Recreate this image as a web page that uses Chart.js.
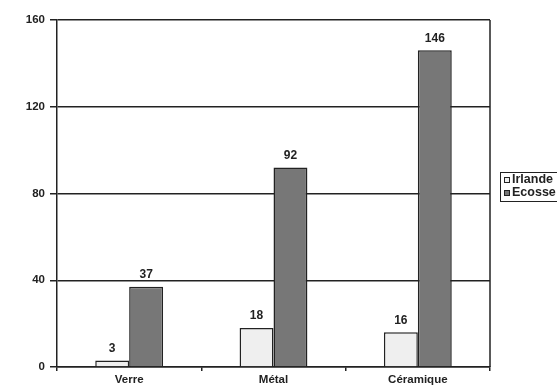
<!DOCTYPE html>
<html><head><meta charset="utf-8">
<script src="https://cdn.jsdelivr.net/npm/chart.js@4/dist/chart.umd.min.js"></script>
<style>html,body{margin:0;padding:0;background:#fff}#wrap{width:557px;height:387px}</style>
</head><body><div id="wrap"><canvas id="c" width="557" height="387"></canvas></div>
<script>
const categories = ["Verre", "Métal", "Céramique"];
const irlande = [3, 18, 16];
const ecosse = [37, 92, 146];
const yTicks = [0, 40, 80, 120, 160];
const seriesNames = ["Irlande", "Ecosse"];

const FONT = {family: "'Liberation Sans', Arial, sans-serif", size: 11.5, weight: "bold"};

const extras = {
  id: "extras",
  afterDatasetsDraw(chart) {
    const ctx = chart.ctx, a = chart.chartArea;
    ctx.save();
    // right border
    ctx.strokeStyle = "#222"; ctx.lineWidth = 1.5;
    ctx.beginPath(); ctx.moveTo(a.right, a.top); ctx.lineTo(a.right, a.bottom); ctx.stroke();
    // data labels
    ctx.fillStyle = "#222";
    ctx.font = "bold 12px 'Liberation Sans', Arial, sans-serif";
    ctx.textAlign = "center"; ctx.textBaseline = "bottom";
    chart.data.datasets.forEach((ds, i) => {
      chart.getDatasetMeta(i).data.forEach((bar, j) => {
        ctx.fillText(String(ds.data[j]), bar.x, bar.y - 6);
      });
    });
    // legend
    const lx = 500, ly = 172, lw = 62, lh = 29;
    ctx.strokeStyle = "#222"; ctx.lineWidth = 1;
    ctx.strokeRect(lx + 0.5, ly + 0.5, lw, lh);
    ctx.font = "bold 12.5px 'Liberation Sans', Arial, sans-serif";
    ctx.textAlign = "left"; ctx.textBaseline = "middle";
    chart.data.datasets.forEach((ds, i) => {
      const cy = ly + 8 + i * 13;
      ctx.fillStyle = ds.backgroundColor;
      ctx.fillRect(lx + 4, cy - 3, 6, 6);
      ctx.strokeStyle = "#222";
      ctx.strokeRect(lx + 4.5, cy - 2.5, 5, 5);
      ctx.fillStyle = "#222";
      ctx.fillText(ds.label, lx + 12, cy);
    });
    ctx.restore();
  }
};

new Chart(document.getElementById("c"), {
  type: "bar",
  data: {
    labels: categories,
    datasets: [
      {label: seriesNames[0], data: irlande, backgroundColor: "#efefef", borderColor: "#222", borderWidth: 1.5},
      {label: seriesNames[1], data: ecosse, backgroundColor: "#777777", borderColor: "#222", borderWidth: 1.5}
    ]
  },
  options: {
    responsive: false,
    animation: false,
    layout: {padding: {left: 0, top: 20, right: 67, bottom: 0}},
    plugins: {legend: {display: false}, tooltip: {enabled: false}},
    datasets: {bar: {categoryPercentage: 0.47, barPercentage: 1}},
    scales: {
      x: {
        grid: {display: true, offset: true, drawOnChartArea: false, color: "#222", lineWidth: 1.5, tickLength: 4},
        border: {color: "#222", width: 1.5},
        ticks: {color: "#222", font: FONT, padding: 2},
        afterFit(s) { s.height = 20; }
      },
      y: {
        min: 0, max: 160,
        afterBuildTicks(s) { s.ticks = yTicks.map(v => ({value: v})); },
        grid: {color: "#222", lineWidth: 1.5, tickLength: 7},
        border: {color: "#222", width: 1.5},
        ticks: {color: "#222", font: FONT, padding: 5},
        afterFit(s) { s.width = 57; }
      }
    }
  },
  plugins: [extras]
});
</script></body></html>
